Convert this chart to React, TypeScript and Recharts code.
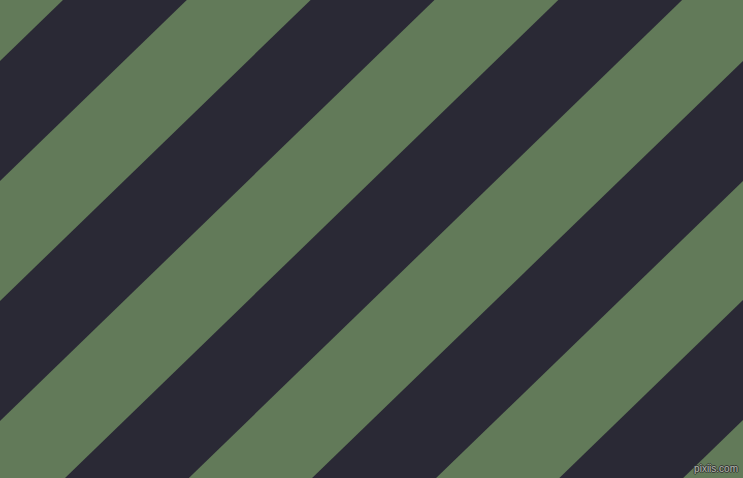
import React from "react";
import { ComposedChart, Area, XAxis, YAxis } from "recharts";

// Edge positions (px along the left and right borders) where each green stripe starts and ends
const stripeNames = ["g0", "g1", "g2", "g3", "g4", "g5"];
const leftStart = [-59, 181, 421, 661, 900, 1140];
const leftEnd = [61, 301, 541, 780, 1020, 1260];
const rightStart = [-779, -539, -299, -59, 181, 420];
const rightEnd = [-659, -419, -179, 61, 300, 540];
const edgeX = [0, 743];

const GREEN = "#627a59";
const DARK = "#2a2935";

const data = edgeX.map((x, i) => {
  const row: Record<string, any> = { x };
  stripeNames.forEach((name, k) => {
    row[name] = i === 0 ? [leftStart[k], leftEnd[k]] : [rightStart[k], rightEnd[k]];
  });
  return row;
});

export default function App() {
  return (
    <div
      style={{
        position: "absolute",
        left: 0,
        top: 0,
        width: 743,
        height: 478,
        background: DARK,
        overflow: "hidden",
      }}
    >
      <ComposedChart
        width={743}
        height={478}
        data={data}
        margin={{ top: 0, right: 0, bottom: 0, left: 0 }}
      >
        <XAxis dataKey="x" type="number" domain={[0, 743]} hide allowDataOverflow />
        <YAxis type="number" domain={[0, 478]} reversed hide allowDataOverflow />
        {stripeNames.map((name) => (
          <Area
            key={name}
            dataKey={name}
            type="linear"
            stroke="none"
            fill={GREEN}
            fillOpacity={1}
            isAnimationActive={false}
            activeDot={false}
            dot={false}
          />
        ))}
      </ComposedChart>
      <div
        style={{
          position: "absolute",
          right: 5,
          bottom: 4,
          fontFamily: "Liberation Sans, Arial, sans-serif",
          fontSize: 10,
          lineHeight: "10px",
          color: "#b4b8b0",
          textShadow:
            "1px 0 0 #333, -1px 0 0 #333, 0 1px 0 #333, 0 -1px 0 #333",
        }}
      >
        pixiis.com
      </div>
    </div>
  );
}
